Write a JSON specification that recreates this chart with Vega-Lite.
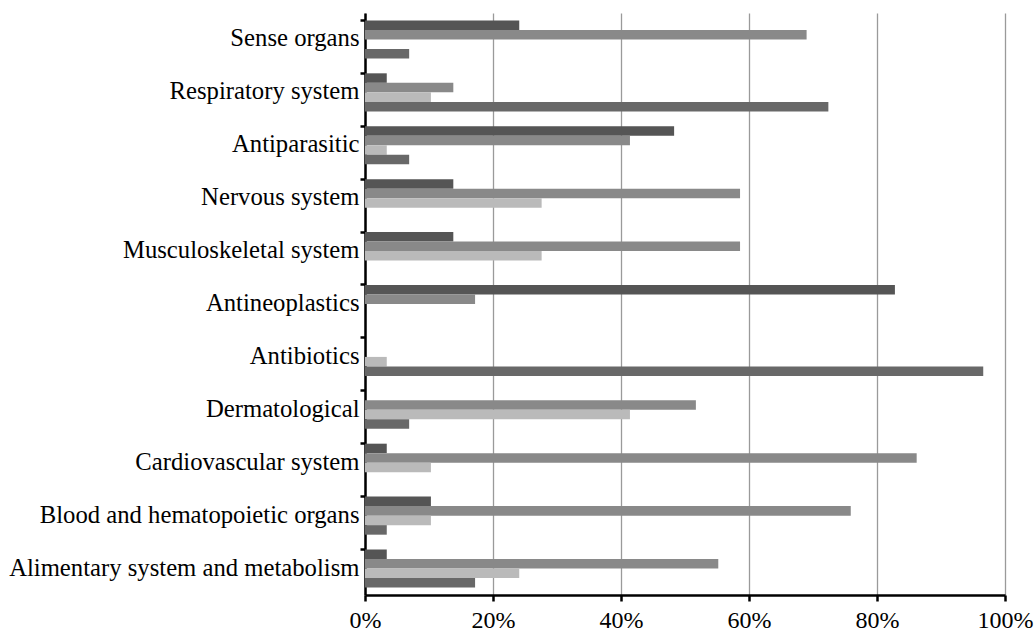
{
  "$schema": "https://vega.github.io/schema/vega-lite/v6.json",
  "autosize": {"type": "none"},
  "padding": {"left": 365, "top": 13, "right": 31, "bottom": 39},
  "width": 640,
  "height": 582,
  "background": "white",
  "config": {"view": {"stroke": null}, "font": "Liberation Serif"},
  "data": {"values": [
    {"cat": "Sense organs", "s": "s1", "v": 24.1},
    {"cat": "Sense organs", "s": "s2", "v": 69.0},
    {"cat": "Sense organs", "s": "s3", "v": 0},
    {"cat": "Sense organs", "s": "s4", "v": 6.9},
    {"cat": "Respiratory system", "s": "s1", "v": 3.4},
    {"cat": "Respiratory system", "s": "s2", "v": 13.8},
    {"cat": "Respiratory system", "s": "s3", "v": 10.3},
    {"cat": "Respiratory system", "s": "s4", "v": 72.4},
    {"cat": "Antiparasitic", "s": "s1", "v": 48.3},
    {"cat": "Antiparasitic", "s": "s2", "v": 41.4},
    {"cat": "Antiparasitic", "s": "s3", "v": 3.4},
    {"cat": "Antiparasitic", "s": "s4", "v": 6.9},
    {"cat": "Nervous system", "s": "s1", "v": 13.8},
    {"cat": "Nervous system", "s": "s2", "v": 58.6},
    {"cat": "Nervous system", "s": "s3", "v": 27.6},
    {"cat": "Nervous system", "s": "s4", "v": 0},
    {"cat": "Musculoskeletal system", "s": "s1", "v": 13.8},
    {"cat": "Musculoskeletal system", "s": "s2", "v": 58.6},
    {"cat": "Musculoskeletal system", "s": "s3", "v": 27.6},
    {"cat": "Musculoskeletal system", "s": "s4", "v": 0},
    {"cat": "Antineoplastics", "s": "s1", "v": 82.8},
    {"cat": "Antineoplastics", "s": "s2", "v": 17.2},
    {"cat": "Antineoplastics", "s": "s3", "v": 0},
    {"cat": "Antineoplastics", "s": "s4", "v": 0},
    {"cat": "Antibiotics", "s": "s1", "v": 0},
    {"cat": "Antibiotics", "s": "s2", "v": 0},
    {"cat": "Antibiotics", "s": "s3", "v": 3.4},
    {"cat": "Antibiotics", "s": "s4", "v": 96.6},
    {"cat": "Dermatological", "s": "s1", "v": 0},
    {"cat": "Dermatological", "s": "s2", "v": 51.7},
    {"cat": "Dermatological", "s": "s3", "v": 41.4},
    {"cat": "Dermatological", "s": "s4", "v": 6.9},
    {"cat": "Cardiovascular system", "s": "s1", "v": 3.4},
    {"cat": "Cardiovascular system", "s": "s2", "v": 86.2},
    {"cat": "Cardiovascular system", "s": "s3", "v": 10.3},
    {"cat": "Cardiovascular system", "s": "s4", "v": 0},
    {"cat": "Blood and hematopoietic organs", "s": "s1", "v": 10.3},
    {"cat": "Blood and hematopoietic organs", "s": "s2", "v": 75.9},
    {"cat": "Blood and hematopoietic organs", "s": "s3", "v": 10.3},
    {"cat": "Blood and hematopoietic organs", "s": "s4", "v": 3.4},
    {"cat": "Alimentary system and metabolism", "s": "s1", "v": 3.4},
    {"cat": "Alimentary system and metabolism", "s": "s2", "v": 55.2},
    {"cat": "Alimentary system and metabolism", "s": "s3", "v": 24.1},
    {"cat": "Alimentary system and metabolism", "s": "s4", "v": 17.2}
  ]},
  "mark": {"type": "bar"},
  "encoding": {
    "y": {
      "field": "cat",
      "type": "nominal",
      "sort": null,
      "scale": {"paddingInner": 0.28, "paddingOuter": 0.14},
      "axis": {
        "title": null,
        "bandPosition": 0,
        "domainColor": "black",
        "domainWidth": 2.5,
        "tickColor": "black",
        "tickWidth": 2.5,
        "tickSize": 5,
        "labelFont": "Liberation Serif",
        "labelFontSize": 24.7,
        "labelColor": "black",
        "labelPadding": 1,
        "labelLimit": 400
      }
    },
    "yOffset": {
      "field": "s",
      "type": "nominal",
      "sort": ["s1", "s2", "s3", "s4"],
      "scale": {"paddingInner": 0, "paddingOuter": 0}
    },
    "x": {
      "field": "v",
      "type": "quantitative",
      "scale": {"domain": [0, 100], "nice": false},
      "axis": {
        "title": null,
        "values": [0, 20, 40, 60, 80, 100],
        "labelExpr": "datum.value + '%'",
        "grid": true,
        "gridColor": "#9a9a9a",
        "gridWidth": 1.3,
        "domainColor": "black",
        "domainWidth": 2.5,
        "tickColor": "black",
        "tickWidth": 2.5,
        "tickSize": 6,
        "labelFont": "Liberation Serif",
        "labelFontSize": 24,
        "labelColor": "black",
        "labelPadding": 7,
        "labelFlush": false
      }
    },
    "color": {
      "field": "s",
      "type": "nominal",
      "legend": null,
      "scale": {"domain": ["s1", "s2", "s3", "s4"], "range": ["#555555", "#898989", "#bababa", "#686868"]}
    }
  }
}
